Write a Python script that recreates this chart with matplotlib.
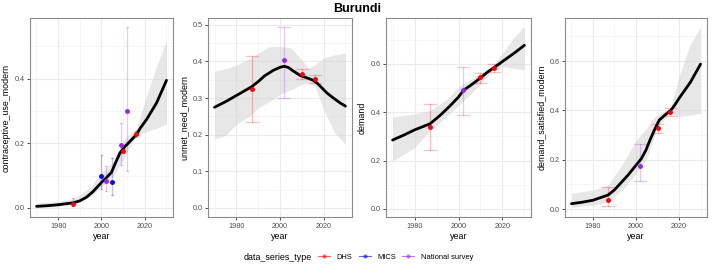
import numpy as np
import matplotlib
matplotlib.use("Agg")
import matplotlib.pyplot as plt
from matplotlib.lines import Line2D

plt.rcParams['font.family'] = ['Liberation Sans', 'DejaVu Sans']

# ---- data ----
# contraceptive_use_modern
cu_year = [1970, 1975, 1980, 1987, 1990, 1993, 1996, 2000, 2002, 2004.6, 2006.5, 2008.5, 2010.8, 2013, 2016.2, 2018, 2020.8, 2025.4, 2030]
cu_med = [0.005, 0.007, 0.010, 0.016, 0.022, 0.033, 0.05, 0.079, 0.092, 0.11, 0.14, 0.17, 0.19, 0.205, 0.228, 0.248, 0.274, 0.325, 0.395]
cu_band_year = [1970, 1980, 1987, 1995, 2000, 2005, 2010, 2013, 2016, 2020, 2025, 2030]
cu_lo = [0.0, 0.004, 0.010, 0.035, 0.064, 0.095, 0.15, 0.19, 0.22, 0.235, 0.245, 0.26]
cu_hi = [0.015, 0.02, 0.028, 0.065, 0.11, 0.14, 0.21, 0.228, 0.245, 0.33, 0.43, 0.52]

# unmet_need_modern
un_year = [1970, 1975, 1980, 1987, 1990, 1993, 1997, 2000, 2002, 2004, 2005.8, 2009.5, 2012.5, 2015, 2017, 2019, 2021.5, 2024.5, 2027.5, 2030]
un_med = [0.275, 0.29, 0.307, 0.331, 0.345, 0.361, 0.376, 0.384, 0.387, 0.383, 0.375, 0.361, 0.355, 0.349, 0.341, 0.329, 0.314, 0.300, 0.287, 0.278]
un_band_year = [1970, 1975, 1980, 1987, 1990, 1995, 2000, 2005, 2010, 2013, 2016, 2020, 2025, 2030]
un_lo = [0.188, 0.198, 0.228, 0.255, 0.274, 0.29, 0.31, 0.323, 0.337, 0.341, 0.332, 0.269, 0.206, 0.174]
un_hi = [0.373, 0.38, 0.39, 0.41, 0.423, 0.44, 0.441, 0.437, 0.405, 0.382, 0.39, 0.41, 0.418, 0.423]

# demand
dm_year = [1970, 1975, 1980, 1987, 1991.5, 1996, 2000, 2002.3, 2005, 2007.7, 2010.3, 2013, 2016.2, 2020, 2025.4, 2030]
dm_med = [0.285, 0.305, 0.327, 0.352, 0.386, 0.425, 0.463, 0.491, 0.508, 0.526, 0.544, 0.565, 0.585, 0.61, 0.645, 0.677]
dm_band_year = [1970, 1980, 1987, 1995, 2000, 2005, 2010, 2016, 2020, 2025, 2030]
dm_lo = [0.198, 0.254, 0.324, 0.386, 0.428, 0.47, 0.519, 0.575, 0.589, 0.582, 0.575]
dm_hi = [0.38, 0.393, 0.407, 0.456, 0.505, 0.533, 0.557, 0.596, 0.645, 0.707, 0.756]

# demand_satisfied_modern
ds_year = [1970, 1975, 1980, 1987, 1990, 1992, 1996, 2000, 2002.5, 2004.6, 2006.5, 2008.5, 2010.8, 2013.5, 2016.2, 2018, 2020, 2025.4, 2030]
ds_med = [0.022, 0.028, 0.036, 0.057, 0.078, 0.097, 0.135, 0.178, 0.205, 0.239, 0.28, 0.32, 0.361, 0.382, 0.401, 0.422, 0.449, 0.516, 0.588]
ds_band_year = [1970, 1980, 1987, 1995, 2000, 2005, 2008, 2010, 2016, 2020, 2025, 2030]
ds_lo = [0.007, 0.016, 0.03, 0.09, 0.145, 0.205, 0.28, 0.334, 0.388, 0.374, 0.381, 0.388]
ds_hi = [0.064, 0.077, 0.097, 0.2, 0.28, 0.327, 0.368, 0.385, 0.408, 0.536, 0.665, 0.739]

# observations: (type, year, value, lower, upper)
cu_obs_type = ["DHS", "DHS", "DHS", "MICS", "MICS", "National survey", "National survey", "National survey"]
cu_obs_year = [1987, 2010, 2016, 2000, 2005, 2002, 2009, 2012]
cu_obs_val = [0.012, 0.177, 0.23, 0.100, 0.079, 0.084, 0.196, 0.30]
cu_obs_lo = [0.007, 0.169, 0.22, 0.058, 0.041, 0.053, 0.133, 0.113]
cu_obs_hi = [0.030, 0.187, 0.238, 0.163, 0.156, 0.13, 0.263, 0.559]

obs_type = ["DHS", "National survey", "DHS", "DHS"]
obs_year = [1987, 2002, 2010, 2016]
un_obs_val = [0.326, 0.405, 0.365, 0.353]
un_obs_lo = [0.235, 0.301, 0.351, 0.342]
un_obs_hi = [0.414, 0.493, 0.380, 0.364]
dm_obs_val = [0.339, 0.491, 0.544, 0.583]
dm_obs_lo = [0.244, 0.389, 0.523, 0.566]
dm_obs_hi = [0.434, 0.587, 0.562, 0.600]
ds_obs_val = [0.036, 0.174, 0.327, 0.395]
ds_obs_lo = [0.014, 0.114, 0.307, 0.378]
ds_obs_hi = [0.090, 0.264, 0.347, 0.408]

colors = {"DHS": "#FF0000", "MICS": "#0000FF", "National survey": "#A020F0"}

panels = [
    ("contraceptive_use_modern", cu_year, cu_med, cu_band_year, cu_lo, cu_hi,
     cu_obs_type, cu_obs_year, cu_obs_val, cu_obs_lo, cu_obs_hi, 0.9, (-0.028, 0.588),
     [0.0, 0.2, 0.4], [0.1, 0.3, 0.5], 30, 173),
    ("unmet_need_modern", un_year, un_med, un_band_year, un_lo, un_hi,
     obs_type, obs_year, un_obs_val, un_obs_lo, un_obs_hi, 5.4, (-0.0247, 0.5187),
     [0.0, 0.1, 0.2, 0.3, 0.4, 0.5], [0.05, 0.15, 0.25, 0.35, 0.45], 208, 352),
    ("demand", dm_year, dm_med, dm_band_year, dm_lo, dm_hi,
     obs_type, obs_year, dm_obs_val, dm_obs_lo, dm_obs_hi, 5.4, (-0.0335, 0.79),
     [0.0, 0.2, 0.4, 0.6], [0.1, 0.3, 0.5, 0.7], 386, 531),
    ("demand_satisfied_modern", ds_year, ds_med, ds_band_year, ds_lo, ds_hi,
     obs_type, obs_year, ds_obs_val, ds_obs_lo, ds_obs_hi, 5.4, (-0.032, 0.775),
     [0.0, 0.2, 0.4, 0.6], [0.1, 0.3, 0.5, 0.7], 565, 707),
]

W, H = 714, 268
fig = plt.figure(figsize=(W / 100, H / 100), dpi=100)
top, bottom = 18, 217
tick_col = "#4D4D4D"

for (ylab, yr, med, byr, lo, hi, otype, oyr, oval, olo, ohi, capw, ylim,
     yt, ymt, x0, x1) in panels:
    ax = fig.add_axes([x0 / W, 1 - bottom / H, (x1 - x0) / W, (bottom - top) / H])
    ax.set_xlim(1967, 2033)
    ax.set_ylim(*ylim)
    ax.set_xticks([1980, 2000, 2020])
    ax.set_xticks([1970, 1990, 2010, 2030], minor=True)
    ax.set_yticks(yt)
    ax.set_yticks(ymt, minor=True)
    ax.set_yticklabels([f"{v:.1f}" for v in yt])
    ax.grid(which="major", color="#EBEBEB", lw=0.8)
    ax.grid(which="minor", color="#F3F3F3", lw=0.5)
    ax.set_axisbelow(True)
    for s in ax.spines.values():
        s.set_color("#8A8A8A")
        s.set_linewidth(0.8)
    ax.tick_params(which="major", length=2.5, width=0.6, color="#333333",
                   labelsize=5.2, labelcolor=tick_col, pad=1.5)
    ax.tick_params(which="minor", length=0)
    ax.set_xlabel("year", fontsize=6.4, labelpad=1.5)
    ax.set_ylabel(ylab, fontsize=6.4, labelpad=2.5)

    ax.fill_between(byr, lo, hi, color="#D0D0D0", alpha=0.5, lw=0, zorder=1)
    ax.plot(yr, med, color="black", lw=2, zorder=3, solid_capstyle="round")
    for t, x, v, l, h in zip(otype, oyr, oval, olo, ohi):
        c = colors[t]
        ax.plot([x, x], [l, h], color=c, alpha=0.25, lw=0.9, zorder=2)
        ax.plot([x - capw / 2, x + capw / 2], [l, l], color=c, alpha=0.25, lw=0.9, zorder=2)
        ax.plot([x - capw / 2, x + capw / 2], [h, h], color=c, alpha=0.25, lw=0.9, zorder=2)
        ax.plot([x], [v], "o", color=c, ms=3.5, mec="none", zorder=4)

fig.text(0.5, 1 - 9 / H, "Burundi", ha="center", va="center",
         fontsize=9, fontweight="bold")

handles = [Line2D([0], [0], color=colors[k], lw=0.8, alpha=0.6, marker="o",
                  ms=3, mfc=colors[k], mec="none") for k in colors]
leg = fig.legend(handles, list(colors.keys()), loc="center left",
                 bbox_to_anchor=(318 / W, 1 - 257 / H), ncol=3, frameon=False,
                 fontsize=5.4, handlelength=1.6, columnspacing=0.8,
                 handletextpad=0.9, borderpad=0, borderaxespad=0)
fig.text(244 / W, 1 - 257 / H, "data_series_type", ha="left", va="center",
         fontsize=6.4)

fig.savefig("out.png", dpi=100)
